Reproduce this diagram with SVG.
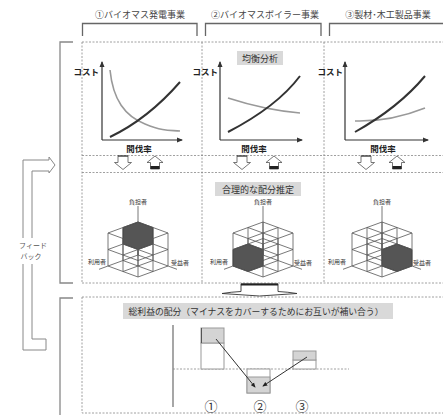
<svg xmlns="http://www.w3.org/2000/svg" xmlns:xlink="http://www.w3.org/1999/xlink" width="443" height="415" viewBox="0 0 443 415">
<style>
text{font-family:"Noto Sans CJK JP","Noto Sans",sans-serif;fill:#333}
.hd{font-size:9px;fill:#444;text-anchor:middle}
.lbl{font-size:9px;text-anchor:middle}
.ax{font-size:8.5px;font-weight:bold;fill:#222}
.sm{font-size:6px;text-anchor:middle;fill:#333}
.dash{fill:none;stroke:#888;stroke-width:0.8;stroke-dasharray:2 1.5}
.brk{fill:none;stroke:#666;stroke-width:1.3}
.side{fill:none;stroke:#888;stroke-width:1.3}
.axis{fill:none;stroke:#333;stroke-width:1.2;marker-end:url(#ah)}
.dk{fill:none;stroke:#333;stroke-width:2}
.gy{fill:none;stroke:#999;stroke-width:1.6}
.tag{fill:#d9d9d9}
.harr{fill:#fff;stroke:#555;stroke-width:0.8}
.lat{fill:none;stroke:#555;stroke-width:0.8}
.shade{fill:#555;stroke:#333;stroke-width:0.8}
.bar{fill:#fff;stroke:#999;stroke-width:1}
.barf{fill:#d4d4d4;stroke:#999;stroke-width:1}
.ln{fill:none;stroke:#333;stroke-width:1;marker-end:url(#ah2)}
</style>
<defs>
<marker id="ah" viewBox="0 0 6 6" refX="5" refY="3" markerWidth="6" markerHeight="6" markerUnits="userSpaceOnUse" orient="auto"><path d="M0,0.5 L6,3 L0,5.5 Z" fill="#333"/></marker>
<marker id="ah2" viewBox="0 0 6 6" refX="5" refY="3" markerWidth="5" markerHeight="5" markerUnits="userSpaceOnUse" orient="auto"><path d="M0,0.5 L6,3 L0,5.5 Z" fill="#222"/></marker>
<path id="lattice" class="lat" d="M0,0 L-30,11 M0,-16.5 L-30,-5.5 M0,-33 L-30,-22 M15,5.5 L-15,16.5 M15,-11 L-15,0 M15,-27.5 L-15,-16.5 M30,11 L0,22 M30,-5.5 L0,5.5 M30,-22 L0,-11 M0,0 L30,11 M0,-16.5 L30,-5.5 M0,-33 L30,-22 M-15,5.5 L15,16.5 M-15,-11 L15,0 M-15,-27.5 L15,-16.5 M-30,11 L0,22 M-30,-5.5 L0,5.5 M-30,-22 L0,-11 M0,0 V-33 M-15,5.5 V-27.5 M-30,11 V-22 M15,5.5 V-27.5 M0,11 V-22 M-15,16.5 V-16.5 M30,11 V-22 M15,16.5 V-16.5 M0,22 V-11"/>
<path id="cubeaxes" class="lat" d="M0,-49 V0 M-30,11 L-39,14.3 M30,11 L39,14.3"/>
<path id="downarr" class="harr" d="M-5,0 H5 V6.5 H8.5 L0,13.5 L-8.5,6.5 H-5 Z"/>
<path id="uparr" class="harr" d="M0,0 L8,6.5 H4.5 V13 H-4.5 V6.5 H-8 Z"/>
</defs>

<g id="headers">
<text class="hd" x="140" y="17.5">①バイオマス発電事業</text>
<text class="hd" x="265" y="17.5">②バイオマスボイラー事業</text>
<text class="hd" x="388" y="17.5">③製材･木工製品事業</text>
<path class="brk" d="M82.5,36 V23.5 H197 V36"/>
<path class="brk" d="M205.5,36 V23.5 H321 V36"/>
<path class="brk" d="M329.5,36 V23.5 H445"/>
</g>

<g id="frames">
<path class="dash" d="M82,42 H443 M82,155.5 H443 M82,172.5 H443 M82,283 H443 M82,42 V283 M202,42 V283 M324,42 V283"/>
<path class="dash" d="M82,297 H443 M82,297 V413 H443"/>
<path class="side" d="M73,42 H60 V283 H73"/>
<path class="side" d="M73,298 H60 V416"/>
</g>

<g id="feedback">
<path fill="#fff" stroke="#888" stroke-width="1" d="M23,350 V160 H49 V157 L55,165 L49,173 V171 H32 V339 H46 V350 Z"/>
<rect x="18" y="238" width="32" height="26" fill="#fff"/>
<text x="33" y="248" font-size="7" text-anchor="middle" style="fill:#555">フィード</text>
<text x="31" y="259" font-size="7" text-anchor="middle" style="fill:#555">バック</text>
</g>

<g id="tag-equilibrium">
<rect class="tag" x="237" y="51" width="46" height="14"/>
<text class="lbl" x="260" y="61.5">均衡分析</text>
</g>

<g id="graph1">
<path class="axis" d="M102,140 V62"/>
<path class="axis" d="M102,140 H182"/>
<text class="ax" x="99" y="75" text-anchor="end">コスト</text>
<text class="ax" x="139" y="152" text-anchor="middle">間伐率</text>
<path class="gy" d="M110,70 C113,100 125,116 145,124 S170,130 180,131"/>
<path class="dk" d="M110,137 C135,125 160,105 180,82"/>
</g>
<g id="graph2">
<path class="axis" d="M220,140 V62"/>
<path class="axis" d="M220,140 H302"/>
<text class="ax" x="218" y="75" text-anchor="end">コスト</text>
<text class="ax" x="254" y="152" text-anchor="middle">間伐率</text>
<path class="gy" d="M228,98 Q265,110 300,113"/>
<path class="dk" d="M228,132 C255,118 282,100 300,76"/>
</g>
<g id="graph3">
<path class="axis" d="M345,140 V62"/>
<path class="axis" d="M345,140 H428"/>
<text class="ax" x="343" y="75" text-anchor="end">コスト</text>
<text class="ax" x="383" y="152" text-anchor="middle">間伐率</text>
<path class="gy" d="M355,121 Q390,122 425,108"/>
<path class="dk" d="M355,132 C380,118 405,100 425,76"/>
</g>

<g id="band-arrows">
<use href="#downarr" xlink:href="#downarr" transform="translate(123,156)"/>
<use href="#uparr" xlink:href="#uparr" transform="translate(155,156)"/>
<rect x="150.5" y="166" width="9" height="3" fill="#222"/>
<use href="#downarr" xlink:href="#downarr" transform="translate(242,156)"/>
<use href="#uparr" xlink:href="#uparr" transform="translate(274,156)"/>
<rect x="269.5" y="166" width="9" height="3" fill="#222"/>
<use href="#downarr" xlink:href="#downarr" transform="translate(366,156)"/>
<use href="#uparr" xlink:href="#uparr" transform="translate(397,156)"/>
<rect x="392.5" y="166" width="9" height="3" fill="#222"/>
<path d="M118,156 H128 M237,156 H247 M361,156 H371" stroke="#333" stroke-width="1.2"/>
</g>

<g id="tag-allocation">
<rect class="tag" x="215" y="182" width="86" height="14"/>
<text class="lbl" x="258" y="192.5">合理的な配分推定</text>
</g>

<g id="cube1" transform="translate(138,255)">
<path class="shade" d="M0,-33 L-15,-27.5 L-15,-11 L0,-5.5 L15,-11 L15,-27.5 Z"/>
<use href="#lattice" xlink:href="#lattice"/>
<use href="#cubeaxes" xlink:href="#cubeaxes"/>
<text class="sm" x="0" y="-51">負担者</text>
<text class="sm" x="-41" y="9">利用者</text>
<text class="sm" x="42" y="10">受益者</text>
</g>
<g id="cube2" transform="translate(263,255)">
<path class="shade" d="M-15,-11 L-30,-5.5 L-30,11 L-15,16.5 L0,11 L0,-5.5 Z"/>
<use href="#lattice" xlink:href="#lattice"/>
<use href="#cubeaxes" xlink:href="#cubeaxes"/>
<text class="sm" x="0" y="-51">負担者</text>
<text class="sm" x="-44" y="9">利用者</text>
<text class="sm" x="40" y="10">受益者</text>
</g>
<g id="cube3" transform="translate(382,255)">
<path class="shade" d="M15,-11 L0,-5.5 L0,11 L15,16.5 L30,11 L30,-5.5 Z"/>
<use href="#lattice" xlink:href="#lattice"/>
<use href="#cubeaxes" xlink:href="#cubeaxes"/>
<text class="sm" x="0" y="-51">負担者</text>
<text class="sm" x="-45" y="9">利用者</text>
<text class="sm" x="40" y="10">受益者</text>
</g>

<g id="big-arrow">
<path fill="#fff" stroke="#333" stroke-width="0.9" d="M241,284 H278 V291.5 Q288,292 297,293.5 L259.5,296 L222,293.5 Q231,292 241,291.5 Z"/>
<path d="M241,284.5 H278" stroke="#222" stroke-width="1.8"/>
</g>

<g id="tag-profit">
<rect class="tag" x="123" y="303" width="270" height="16"/>
<text x="256" y="314.5" font-size="8.8" text-anchor="middle">総利益の配分（マイナスをカバーするためにお互いが補い合う）</text>
</g>

<g id="chart">
<path d="M173,325 V407" stroke="#777" stroke-width="1.3"/>
<path class="dash" d="M173,369 H349"/>
<rect class="bar" x="201" y="343" width="23" height="26"/>
<rect class="barf" x="201" y="328" width="23" height="15"/>
<path d="M201.5,328 V343" stroke="#555" stroke-width="1"/>
<rect class="bar" x="247" y="369" width="23" height="24"/>
<rect class="barf" x="247" y="377" width="23" height="16"/>
<rect class="bar" x="293" y="360" width="23" height="9"/>
<rect class="barf" x="293" y="351" width="23" height="9"/>
</g>

<g id="connectors">
<path class="ln" d="M216,339 L255,387"/>
<path class="ln" d="M307,357 L263,386"/>
</g>

<g id="chart-labels">
<text x="211" y="411" font-size="13" text-anchor="middle">①</text>
<text x="260" y="411" font-size="13" text-anchor="middle">②</text>
<text x="302" y="411" font-size="13" text-anchor="middle">③</text>
</g>
</svg>
